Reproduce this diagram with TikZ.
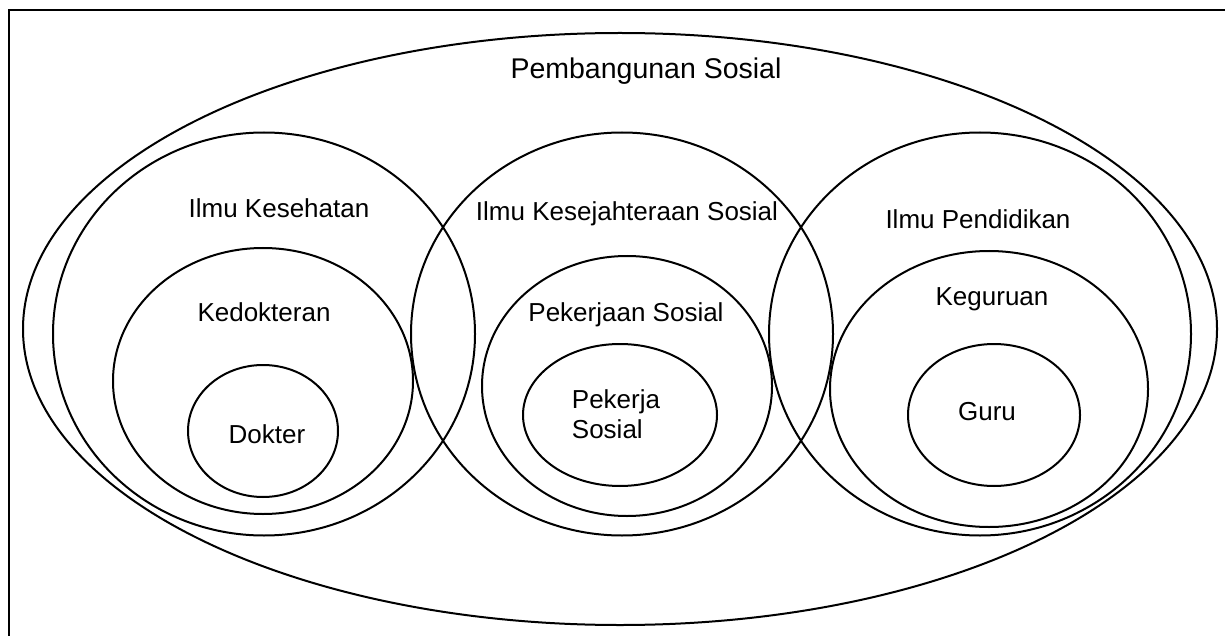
\documentclass[tikz,border=0pt]{standalone}
\usepackage{fontspec}
\setmainfont{Liberation Sans}
\usetikzlibrary{shapes.geometric, positioning, chains}

\begin{document}
\begin{tikzpicture}[x=1pt, y=-1pt, line width=2pt,
   ring/.style = {draw, ellipse, inner sep=0pt},
   field/.style = {ring, minimum width=422pt, minimum height=403pt},
   txt/.style = {font=\fontsize{26}{30}\selectfont, inner sep=0pt, anchor=base}]
   \useasboundingbox (0,0) rectangle (1225,636);
   \draw[line width=2.5pt] (9,636) -- (9,10) -- (1225,10);

   % outer ring
   \node[ring, minimum width=1194pt, minimum height=592pt] (social) at (620,329) {};
   \node[txt, font=\fontsize{28.5}{34}\selectfont] (socialtxt) at (646,79) {Pembangunan Sosial};

   % the three fields
   \begin{scope}[start chain = going right, node distance = 358pt, on grid]
   \node[field, on chain] (health) at (264,334) {};
   \node[field, on chain] (welfare) {};
   \node[field, on chain] (edu) {};
   \end{scope}

   \node[ring, minimum width=300pt, minimum height=266pt] (medic) at (263,381) {};
   \node[ring, minimum width=150pt, minimum height=132pt] (doctor) at (263,431) {};
   \node[ring, minimum width=290pt, minimum height=260pt] (socwork) at (627,386) {};
   \node[ring, minimum width=194pt, minimum height=142pt] (worker) at (620,415) {};
   \node[ring, minimum width=318pt, minimum height=276pt] (teach) at (989,389) {};
   \node[ring, minimum width=172pt, minimum height=142pt] (teacher) at (994,415) {};

   \node[txt] (healthtxt) at (279,218) {Ilmu Kesehatan};
   \node[txt] (medictxt) at (264,321) {Kedokteran};
   \node[txt] (doctortxt) at (267,443) {Dokter};
   \node[txt] (welfaretxt) at (627,221) {Ilmu Kesejahteraan Sosial};
   \node[txt] (socworktxt) at (626,321) {Pekerjaan Sosial};
   \node[txt, anchor=center, align=left] (workertxt) at (616,414) {Pekerja\\Sosial};
   \node[txt] (edutxt) at (978,229) {Ilmu Pendidikan};
   \node[txt] (teachtxt) at (992,305) {Keguruan};
   \node[txt] (teachertxt) at (987,420) {Guru};
\end{tikzpicture}
\end{document}
